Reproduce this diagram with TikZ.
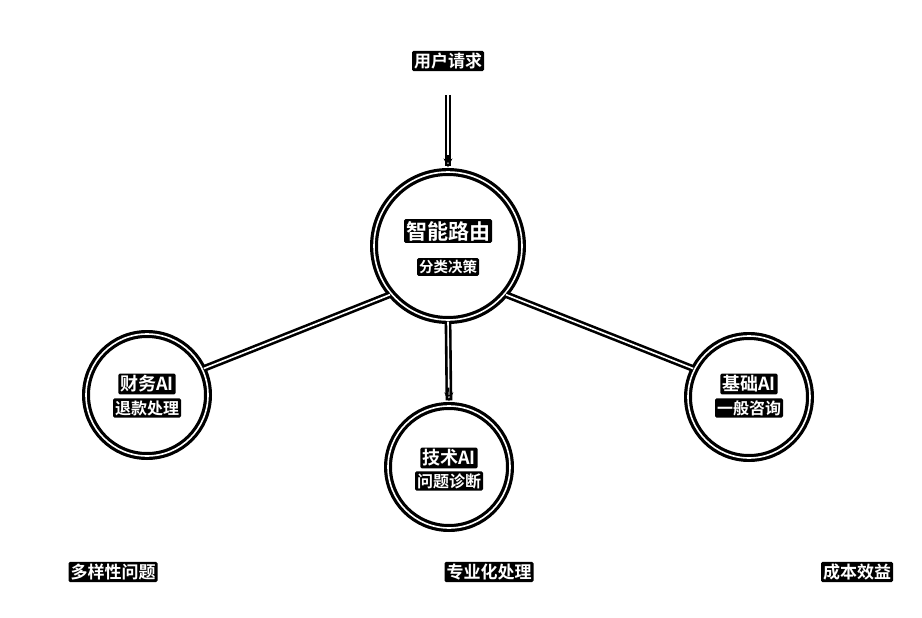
\documentclass[tikz,border=0pt]{standalone}
\usepackage{fontspec}
\setmainfont{Noto Sans CJK SC}[BoldFont={Noto Sans CJK SC Bold}]
\usetikzlibrary{arrows.meta}
\begin{document}
\begin{tikzpicture}[x=1pt,y=-1pt,
  ring/.style={circle,draw=black,line width=3.2pt,double=white,double distance=1.6pt,minimum size=#1,inner sep=0pt},
  lbl/.style={fill=black,text=white,inner sep=2pt,rounded corners=1.5pt,font=\fontsize{#1}{#1}\selectfont\bfseries},
  conn/.style={draw=black,line width=2.6pt,double=white,double distance=1.6pt},
  tip/.style={draw=black,line width=1.2pt,-{Stealth[length=9pt,width=9pt,fill=white]}}]
\useasboundingbox[fill=white] (0,0) rectangle (922,618);
\node[ring=148pt] (route) at (448,246) {};
\node[ring=122pt] (fin) at (147,395) {};
\node[ring=122pt] (tech) at (449,467) {};
\node[ring=122pt] (base) at (749,397) {};
\node[lbl=21] (t1) at (448,231) {智能路由};
\node[lbl=14.5] (t2) at (448,267) {分类决策};
\node[lbl=18] (f1) at (147,384) {财务AI};
\node[lbl=16] (f2) at (147,408) {退款处理};
\node[lbl=18] (h1) at (449,458) {技术AI};
\node[lbl=16] (h2) at (449,481) {问题诊断};
\node[lbl=18] (b1) at (749,384) {基础AI};
\node[lbl=16] (b2) at (749,408) {一般咨询};
\node[lbl=17] (req) at (448,61) {用户请求};
\node[lbl=17] (d1) at (113,572) {多样性问题};
\node[lbl=17] (d2) at (489,572) {专业化处理};
\node[lbl=17] (d3) at (857,572) {成本效益};
\coordinate (reqb) at (448,95);
\draw[conn,shorten >=4pt] (reqb) -- (route.north);
\draw[tip,shorten <=60pt,shorten >=3pt] (reqb) -- (route.north);
\draw[conn,shorten >=4pt] (route.south) -- (tech.north);
\draw[tip,shorten <=66pt,shorten >=3pt] (route.south) -- (tech.north);
\draw[conn] (route.-140) -- (fin.25);
\draw[conn] (route.-40) -- (base.153);
\end{tikzpicture}
\end{document}
